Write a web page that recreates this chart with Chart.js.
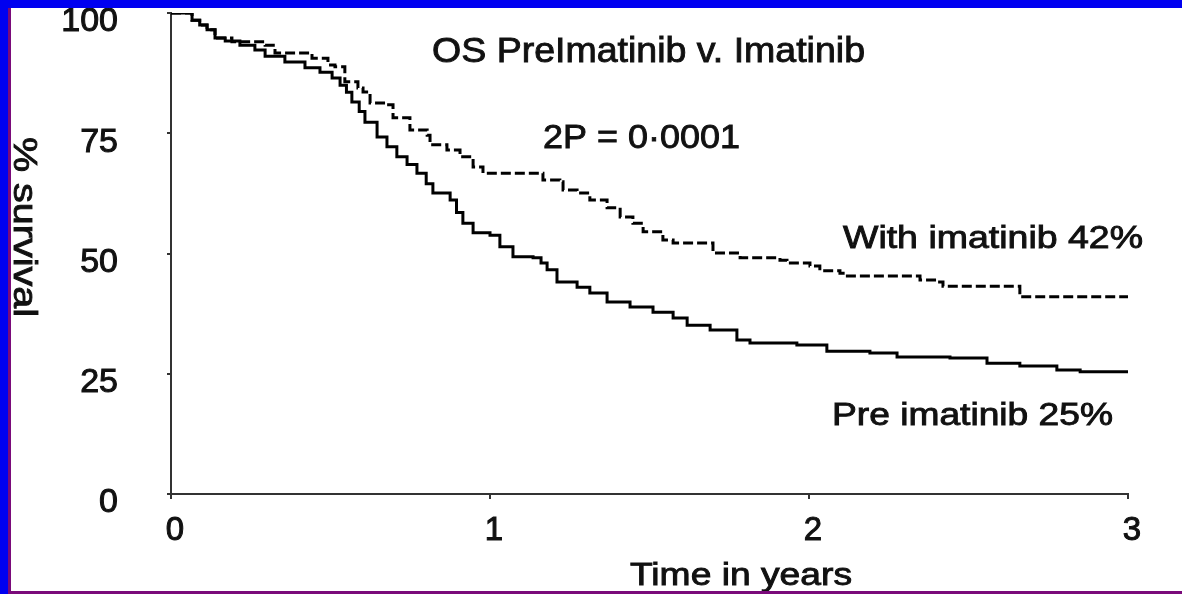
<!DOCTYPE html>
<html>
<head>
<meta charset="utf-8">
<script src="https://cdn.jsdelivr.net/npm/chart.js@4.4.1/dist/chart.umd.min.js"></script>
<style>
	html, body { margin: 0; padding: 0; background: #fff; }
	#wrap { position: relative; width: 1182px; height: 594px; overflow: hidden; background: #fff; }
	#chart { position: absolute; left: 0; top: 0; }
	.bar { position: absolute; }
</style>
</head>
<body>
<div id="wrap">
	<canvas id="chart" width="1182" height="594"></canvas>
	<div class="bar" style="left:0;top:0;width:1182px;height:8px;background:#0000f0"></div>
	<div class="bar" style="left:0;top:0;width:8px;height:594px;background:#0000f0"></div>
	<div class="bar" style="left:8px;top:8px;width:3px;height:586px;background:#7a0a7a"></div>
	<div class="bar" style="left:8px;top:591px;width:1174px;height:3px;background:#7a0a7a"></div>
</div>
<script>
// survival, time in years
var preTimes = [0, 0.05, 0.066, 0.09, 0.113, 0.138, 0.17, 0.216, 0.263, 0.295, 0.357, 0.42, 0.467, 0.505, 0.53, 0.55, 0.567, 0.59, 0.608, 0.646, 0.677, 0.708, 0.74, 0.771, 0.8, 0.821, 0.875, 0.895, 0.915, 0.947, 1.0, 1.031, 1.072, 1.135, 1.16, 1.179, 1.21, 1.273, 1.313, 1.367, 1.439, 1.511, 1.574, 1.618, 1.69, 1.774, 1.815, 1.962, 2.056, 2.191, 2.276, 2.442, 2.558, 2.661, 2.777, 2.85, 3.0];
var preSurvival = [100, 100, 98.5, 97.5, 96.5, 94.8, 94.2, 93.3, 92.3, 91, 89.8, 88.6, 87.7, 86.5, 85, 83.5, 81.5, 79.5, 77.3, 74.2, 72.2, 70.1, 68.5, 66.7, 64.5, 62.6, 61.1, 58.5, 56.3, 54.3, 53.8, 51.4, 49.3, 49.1, 48, 46.6, 44.1, 43.0, 41.8, 39.9, 38.9, 37.8, 36.6, 35.1, 34.1, 32.0, 31.4, 31.0, 29.7, 29.3, 28.5, 28.3, 27.2, 26.6, 25.8, 25.4, 25.2];

var withTimes = [0, 0.05, 0.066, 0.09, 0.113, 0.138, 0.191, 0.295, 0.326, 0.442, 0.492, 0.514, 0.545, 0.586, 0.602, 0.624, 0.677, 0.696, 0.749, 0.803, 0.812, 0.865, 0.906, 0.947, 0.978, 1.135, 1.166, 1.219, 1.229, 1.273, 1.313, 1.367, 1.408, 1.448, 1.48, 1.533, 1.542, 1.574, 1.68, 1.699, 1.784, 1.909, 1.931, 2.003, 2.034, 2.097, 2.107, 2.326, 2.348, 2.401, 2.42, 2.639, 2.661, 3.0];
var withSurvival = [100, 100, 98.5, 97.5, 96.5, 94.8, 94.0, 93.3, 91.7, 90.6, 89.2, 88.8, 85.7, 84.4, 83.6, 81.3, 80.9, 78.2, 75.7, 74.6, 72.6, 71.5, 70.1, 68.0, 66.7, 66.7, 65.3, 64.9, 63.2, 62.6, 61.1, 59.5, 57.6, 56.3, 54.5, 54.5, 52.8, 52.2, 52.2, 50.1, 49.1, 48.6, 48.0, 47.4, 46.4, 45.9, 45.3, 45.3, 44.5, 44.1, 43.2, 43.2, 41.0, 41.0];

var yTicks = [0, 25, 50, 75, 100];
var xTicks = [0, 1, 2, 3];

var FONT = '"Liberation Sans", Arial, sans-serif';

function toPoints(times, values) {
	return times.map((t, i) => ({ x: t, y: values[i] }));
}

//* slide text is stretched wider than the font, so each note is scaled to its width
const notes = [
	{ text: "OS PreImatinib v. Imatinib", x: 432, y: 62, size: 35, width: 433 },
	{ text: "2P = 0\u00b70001", x: 543, y: 148, size: 34, width: 197 },
	{ text: "With imatinib 42%", x: 843, y: 248, size: 32, width: 300 },
	{ text: "Pre imatinib 25%", x: 832, y: 425, size: 31, width: 281 },
	{ text: "Time in years", x: 630, y: 585, size: 31, width: 222 },
	{ text: "% survival", x: 14, y: 137, size: 34, width: 180, rotate: Math.PI / 2 },
];

const notesPlugin = {
	id: "notes",
	afterDraw(chart) {
		const ctx = chart.ctx;
		notes.forEach(function (n) {
			ctx.save();
			ctx.font = `${n.size}px ${FONT}`;
			const w = ctx.measureText(n.text).width;
			ctx.translate(n.x, n.y);
			if (n.rotate) ctx.rotate(n.rotate);
			ctx.scale(n.width / w, 1);
			ctx.fillStyle = "#111";
			ctx.strokeStyle = "#111";
			ctx.lineWidth = 0.9;
			ctx.textBaseline = "alphabetic";
			ctx.textAlign = "left";
			ctx.fillText(n.text, 0, 0);
			ctx.strokeText(n.text, 0, 0);
			ctx.restore();
		});
	},
};

const config = {
	type: "line",
	data: {
		datasets: [
			{
				label: "Pre imatinib",
				data: toPoints(preTimes, preSurvival),
				borderColor: "#000",
				borderWidth: 3,
				stepped: true,
				pointRadius: 0,
			},
			{
				label: "With imatinib",
				data: toPoints(withTimes, withSurvival),
				borderColor: "#000",
				borderWidth: 3,
				borderDash: [10, 4],
				stepped: true,
				pointRadius: 0,
			},
		],
	},
	options: {
		responsive: false,
		animation: false,
		layout: {
			padding: { top: 13, right: 54, left: 0, bottom: 0 },
		},
		plugins: {
			legend: { display: false },
			tooltip: { enabled: false },
		},
		scales: {
			x: {
				type: "linear",
				min: 0,
				max: 3,
				afterBuildTicks: (axis) => {
					axis.ticks = xTicks.map((v) => ({ value: v }));
				},
				afterFit: (axis) => {
					axis.height = 100;
					axis.paddingLeft = 0;
					axis.paddingRight = 0;
				},
				ticks: {
					font: { family: FONT, size: 33 },
					color: "#111",
					textStrokeColor: "#111",
					textStrokeWidth: 1,
					padding: 12,
					labelOffset: 4,
					maxRotation: 0,
				},
				grid: {
					drawOnChartArea: false,
					tickLength: 5,
					color: "#333",
					lineWidth: 2,
				},
				border: { color: "#333", width: 2 },
			},
			y: {
				min: 0,
				max: 100,
				afterBuildTicks: (axis) => {
					axis.ticks = yTicks.map((v) => ({ value: v }));
				},
				afterFit: (axis) => {
					axis.width = 171;
					axis.paddingTop = 0;
					axis.paddingBottom = 0;
				},
				ticks: {
					font: { family: FONT, size: 34 },
					color: "#111",
					textStrokeColor: "#111",
					textStrokeWidth: 1,
					padding: 49,
					labelOffset: 9,
				},
				grid: {
					drawOnChartArea: false,
					tickLength: 4,
					color: "#333",
					lineWidth: 2,
				},
				border: { color: "#333", width: 2 },
			},
		},
	},
	plugins: [notesPlugin],
};

var chart = new Chart(document.getElementById("chart"), config);
</script>
</body>
</html>
